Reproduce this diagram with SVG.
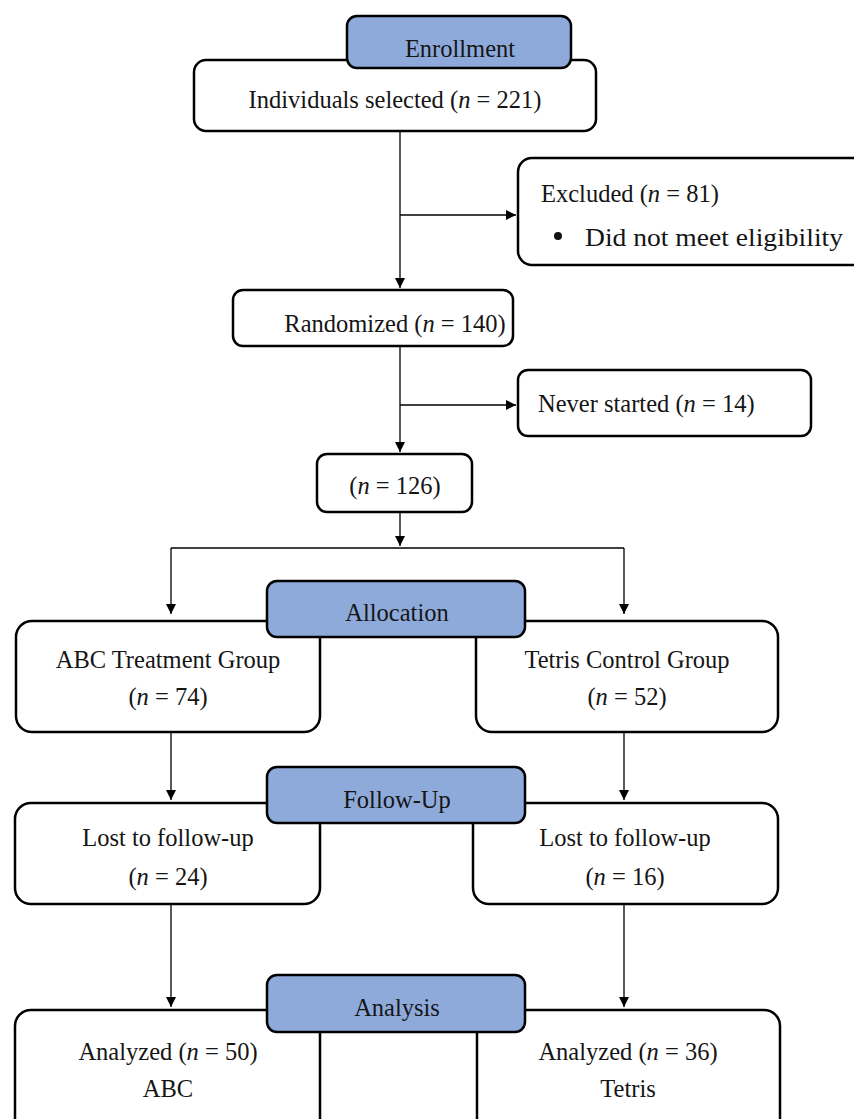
<svg xmlns="http://www.w3.org/2000/svg" width="854" height="1119" viewBox="0 0 854 1119">
<style>
.box{fill:#fff;stroke:#000;stroke-width:2.5}
.hdr{fill:#8eaadb;stroke:#000;stroke-width:2.5}
text{font-family:"Liberation Serif","Times New Roman",serif;font-size:24.5px;fill:#151515;text-anchor:middle}
.l{text-anchor:start}
.c line,.c path{stroke:#000;stroke-width:1.3;fill:none}
</style>
<defs>
<marker id="ah" markerWidth="10" markerHeight="10" refX="10" refY="5" orient="auto" markerUnits="userSpaceOnUse">
<path d="M0,0 L10,5 L0,10 Z" fill="#000"/>
</marker>
</defs>
<rect width="854" height="1119" fill="#fff"/>
<g class="c" id="connectors">
<line x1="400" y1="131" x2="400" y2="288" marker-end="url(#ah)"/>
<line x1="400" y1="215" x2="516" y2="215" marker-end="url(#ah)"/>
<line x1="400" y1="346" x2="400" y2="452" marker-end="url(#ah)"/>
<line x1="400" y1="405" x2="516" y2="405" marker-end="url(#ah)"/>
<line x1="400" y1="512" x2="400" y2="546" marker-end="url(#ah)"/>
<path d="M171,548 H624"/>
<line x1="171" y1="548" x2="171" y2="614" marker-end="url(#ah)"/>
<line x1="624" y1="548" x2="624" y2="614" marker-end="url(#ah)"/>
<line x1="171" y1="732" x2="171" y2="800" marker-end="url(#ah)"/>
<line x1="624" y1="732" x2="624" y2="800" marker-end="url(#ah)"/>
<line x1="171" y1="904" x2="171" y2="1007" marker-end="url(#ah)"/>
<line x1="624" y1="904" x2="624" y2="1007" marker-end="url(#ah)"/>
</g>
<g id="individuals"><rect class="box" x="194" y="60" width="402" height="71" rx="12"/><text x="395" y="108">Individuals selected (<tspan font-style="italic">n</tspan> = 221)</text></g>
<g id="enrollment"><rect class="hdr" x="347" y="16" width="224" height="52" rx="10"/><text x="460" y="57">Enrollment</text></g>
<g id="excluded"><rect class="box" x="518" y="158" width="350" height="107" rx="14"/><text class="l" x="541" y="202" font-size="23">Excluded (<tspan font-style="italic">n</tspan> = 81)</text><circle cx="558" cy="236" r="4" fill="#111"/><text class="l" x="585" y="246" font-size="30" textLength="258" lengthAdjust="spacingAndGlyphs">Did not meet eligibility</text></g>
<g id="randomized"><rect class="box" x="233" y="290" width="280" height="56" rx="10"/><text x="395" y="332">Randomized (<tspan font-style="italic">n</tspan> = 140)</text></g>
<g id="never"><rect class="box" x="518" y="370" width="293" height="66" rx="10"/><text class="l" x="538" y="412">Never started (<tspan font-style="italic">n</tspan> = 14)</text></g>
<g id="n126"><rect class="box" x="317" y="454" width="155" height="58" rx="10"/><text x="395" y="494">(<tspan font-style="italic">n</tspan> = 126)</text></g>
<g id="abc"><rect class="box" x="16" y="621" width="304" height="111" rx="16"/><text x="168" y="668">ABC Treatment Group</text><text x="168" y="705">(<tspan font-style="italic">n</tspan> = 74)</text></g>
<g id="tetris"><rect class="box" x="476" y="621" width="302" height="111" rx="16"/><text x="627" y="668">Tetris Control Group</text><text x="627" y="705">(<tspan font-style="italic">n</tspan> = 52)</text></g>
<g id="allocation"><rect class="hdr" x="267" y="581" width="258" height="56" rx="10"/><text x="397" y="621">Allocation</text></g>
<g id="lostabc"><rect class="box" x="15" y="803" width="305" height="101" rx="16"/><text x="168" y="846">Lost to follow-up</text><text x="168" y="885">(<tspan font-style="italic">n</tspan> = 24)</text></g>
<g id="losttetris"><rect class="box" x="473" y="803" width="305" height="101" rx="16"/><text x="625" y="846">Lost to follow-up</text><text x="625" y="885">(<tspan font-style="italic">n</tspan> = 16)</text></g>
<g id="followup"><rect class="hdr" x="267" y="767" width="258" height="56" rx="10"/><text x="397" y="808">Follow-Up</text></g>
<g id="anabc"><rect class="box" x="15" y="1010" width="305" height="130" rx="16"/><text x="168" y="1060">Analyzed (<tspan font-style="italic">n</tspan> = 50)</text><text x="168" y="1097">ABC</text></g>
<g id="antetris"><rect class="box" x="477" y="1010" width="303" height="130" rx="16"/><text x="628" y="1060">Analyzed (<tspan font-style="italic">n</tspan> = 36)</text><text x="628" y="1097">Tetris</text></g>
<g id="analysis"><rect class="hdr" x="267" y="975" width="258" height="57" rx="10"/><text x="397" y="1016">Analysis</text></g>
</svg>
